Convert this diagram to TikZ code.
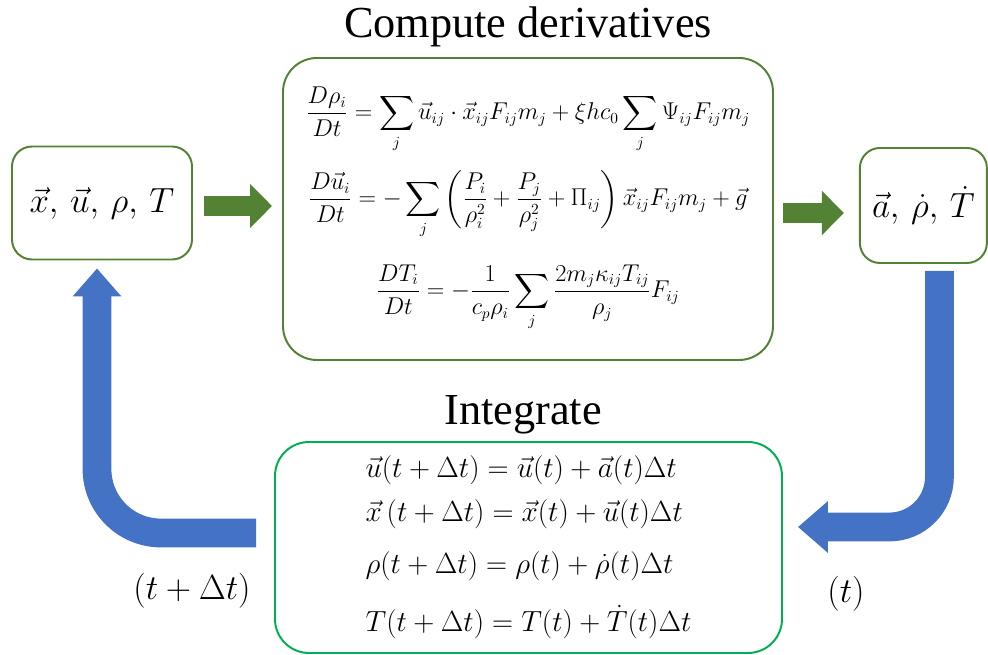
\documentclass[tikz,border=0pt]{standalone}
\usepackage{amsmath}
\usepackage{fontspec}
\setmainfont{Liberation Serif}
\usetikzlibrary{arrows.meta}

\definecolor{boxgreen}{HTML}{548235}
\definecolor{intgreen}{HTML}{00B050}
\definecolor{loopblue}{HTML}{4472C4}

\tikzset{
  varbox/.style={draw=boxgreen, line width=1.4pt, rounded corners=0.5cm, inner sep=0pt,
    font=\fontsize{24}{28}\selectfont},
  eqbox/.style={line width=1.4pt, rounded corners=0.85cm, inner sep=0pt},
  title/.style={font=\fontsize{31.5}{36}\selectfont, anchor=base},
  stepnote/.style={font=\fontsize{24}{28}\selectfont},
  fatgreen/.style={draw=boxgreen, line width=0.5cm, -{Triangle[length=0.55cm,width=1.075cm]}},
  loopback/.style={draw=loopblue, line width=0.72cm}
}

\begin{document}
\begin{tikzpicture}
\useasboundingbox (0,0) rectangle (24.7,16.375);

\node[varbox, minimum width=4.5cm, minimum height=2.825cm] (state) at (2.55,11.3)
  {$\vec{x},\,\vec{u},\,\rho,\,T$};
\node[eqbox, draw=boxgreen, minimum width=12.25cm, minimum height=7.55cm, align=center,
  font=\fontsize{16}{20}\selectfont] (deriv) at (13.2,11.15) {%
  $\displaystyle \frac{D\rho_i}{Dt} = \sum_j \vec{u}_{ij}\cdot\vec{x}_{ij}F_{ij}m_j + \xi h c_0 \sum_j \Psi_{ij}F_{ij}m_j$\\[0.4cm]
  $\displaystyle \frac{D\vec{u}_i}{Dt} = -\sum_j \left(\frac{P_i}{\rho_i^2} + \frac{P_j}{\rho_j^2} + \Pi_{ij}\right)\vec{x}_{ij}F_{ij}m_j + \vec{g}$\\[0.6cm]
  $\displaystyle \frac{DT_i}{Dt} = -\frac{1}{c_p\rho_i}\sum_j \frac{2m_j\kappa_{ij}T_{ij}}{\rho_j}F_{ij}$};
\node[varbox, minimum width=3.175cm, minimum height=2.875cm] (rates) at (23.085,11.2375)
  {$\vec{a},\,\dot{\rho},\,\dot{T}$};
\node[eqbox, draw=intgreen, minimum width=12.675cm, minimum height=5.275cm, align=left,
  font=\fontsize{21.5}{26}\selectfont] (integ) at (13.2125,2.6875) {%
  $\vec{u}(t+\Delta t) = \vec{u}(t) + \vec{a}(t)\Delta t$\\[0.18cm]
  $\vec{x}\,(t+\Delta t) = \vec{x}(t) + \vec{u}(t)\Delta t$\\[0.38cm]
  $\rho(t+\Delta t) = \rho(t) + \dot{\rho}(t)\Delta t$\\[0.55cm]
  $T(t+\Delta t) = T(t) + \dot{T}(t)\Delta t$};

\node[title] (derivtitle) at (13.2,15.425) {Compute derivatives};
\node[title] (integtitle) at (13.075,5.75) {Integrate};

\node[stepnote] (newstep) at (4.8,1.6) {$(t+\Delta t)$};
\node[stepnote] (oldstep) at (21.15,1.525) {$(t)$};

\draw[fatgreen] ([xshift=0.275cm,yshift=-0.075cm]state.east) -- ([xshift=-0.25cm,yshift=-0.075cm]state.east -| deriv.west);
\draw[fatgreen] ([xshift=0.225cm,yshift=-0.1cm]deriv.east) -- ([xshift=-0.375cm,yshift=-0.1cm]deriv.east -| rates.west);

\draw[loopback, rounded corners=1.25cm, -{Triangle[length=0.75cm,width=1.25cm]}]
  ([xshift=0.4cm,yshift=-0.175cm]rates.south) |- ([xshift=0.375cm,yshift=0.5125cm]integ.east);
\draw[loopback, rounded corners=1.6cm, -{Triangle[length=0.7cm,width=1.175cm]}]
  ([xshift=-0.45cm,yshift=0.3625cm]integ.west) -| ([xshift=-0.125cm,yshift=-0.2cm]state.south);
\end{tikzpicture}
\end{document}
